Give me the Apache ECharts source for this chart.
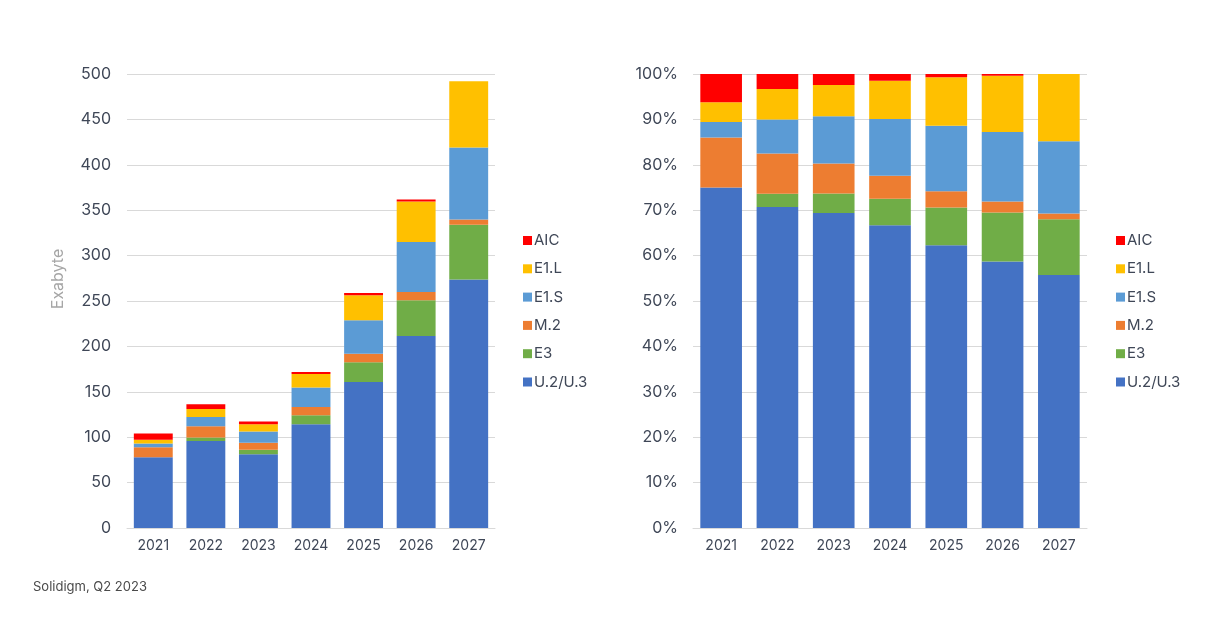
<!DOCTYPE html>
<html>
<head>
<meta charset="utf-8">
<script src="https://cdn.jsdelivr.net/npm/echarts@6/dist/echarts.min.js"></script>
<style>
html,body{margin:0;padding:0;background:#fff;}
#c{width:1219px;height:637px;}
</style>
</head>
<body>
<div id="c"></div>
<script>
// ---- data ----
var years = ['2021','2022','2023','2024','2025','2026','2027'];
var seriesNames = ['U.2/U.3','E3','M.2','E1.S','E1.L','AIC'];
var seriesColors = ['#4472C4','#70AD47','#ED7D31','#5B9BD5','#FFC000','#FF0000'];

// Exabyte (left chart)
var ebU2 = [78, 95.8, 81.2, 114.2, 160.8, 211.5, 273.6];
var ebE3 = [0, 3.8, 5.1, 9.9, 21.7, 39.3, 60.4];
var ebM2 = [11, 12.4, 7.7, 9.2, 9.5, 9.2, 5.8];
var ebE1S = [4, 10.2, 12.2, 21.3, 36.7, 55, 79.2];
var ebE1L = [4.2, 8.8, 8, 15, 27.6, 44.5, 73];
var ebAIC = [6.8, 5.2, 3, 2.2, 2.5, 2.2, 0];

// Share in % (right chart)
var pctU2 = [75.0, 70.7, 69.4, 66.7, 62.3, 58.7, 55.7];
var pctE3 = [0, 2.9, 4.3, 5.8, 8.3, 10.8, 12.3];
var pctM2 = [11.0, 8.9, 6.6, 5.1, 3.6, 2.4, 1.3];
var pctE1S = [3.4, 7.5, 10.4, 12.5, 14.4, 15.3, 15.9];
var pctE1L = [4.4, 6.7, 6.9, 8.4, 10.7, 12.4, 14.8];
var pctAIC = [6.2, 3.3, 2.4, 1.5, 0.7, 0.4, 0.0];

var leftTicks = {min:0, max:500, interval:50};
var rightTicks = {min:0, max:100, interval:10};
var yTitle = 'Exabyte';
var footnote = 'Solidigm, Q2 2023';

var ebData = [ebU2, ebE3, ebM2, ebE1S, ebE1L, ebAIC];
var pctData = [pctU2, pctE3, pctM2, pctE1S, pctE1L, pctAIC];

// ---- chart ----
var FONT = 'Inter';
var textColor = '#3f4757';
var chart = echarts.init(document.getElementById('c'), null, {renderer:'canvas'});

var series = [];
for (var i = 0; i < seriesNames.length; i++) {
  series.push({
    name: seriesNames[i], type:'bar', stack:'eb', xAxisIndex:0, yAxisIndex:0,
    data: ebData[i], itemStyle:{color:seriesColors[i]}, barCategoryGap:'26%',
    emphasis:{disabled:true}
  });
}
for (var j = 0; j < seriesNames.length; j++) {
  series.push({
    name: seriesNames[j], type:'bar', stack:'pct', xAxisIndex:1, yAxisIndex:1,
    data: pctData[j], itemStyle:{color:seriesColors[j]}, barCategoryGap:'26%',
    emphasis:{disabled:true}
  });
}

var legendNames = seriesNames.slice().reverse();
function legend(left) {
  return {
    orient:'vertical', left:left, top:228,
    data: legendNames,
    icon:'rect', itemWidth:9, itemHeight:9, itemGap:13.3,
    selectedMode:false,
    textStyle:{fontFamily:FONT, fontSize:15, color:textColor, lineHeight:10, padding:[0,0,0,-3]}
  };
}

var axisLabelY = {fontFamily:FONT, fontSize:16, color:textColor, margin:16};
var axisLabelX = {fontFamily:FONT, fontSize:14, color:textColor, margin:11};

chart.setOption({
  backgroundColor:'#ffffff',
  animation:false,
  textStyle:{fontFamily:FONT},
  grid:[
    {left:127, top:74, width:368, height:454},
    {left:693, top:74, width:394, height:454}
  ],
  legend:[legend(518), legend(1111)],
  xAxis:[
    {type:'category', gridIndex:0, data:years,
      axisLine:{lineStyle:{color:'#d9d9d9'}}, axisTick:{show:false}, axisLabel:axisLabelX},
    {type:'category', gridIndex:1, data:years,
      axisLine:{lineStyle:{color:'#d9d9d9'}}, axisTick:{show:false}, axisLabel:axisLabelX}
  ],
  yAxis:[
    {type:'value', gridIndex:0, min:leftTicks.min, max:leftTicks.max, interval:leftTicks.interval,
      axisLine:{show:false}, axisTick:{show:false},
      splitLine:{lineStyle:{color:'#d9d9d9'}}, axisLabel:axisLabelY},
    {type:'value', gridIndex:1, min:rightTicks.min, max:rightTicks.max, interval:rightTicks.interval,
      axisLine:{show:false}, axisTick:{show:false},
      splitLine:{lineStyle:{color:'#d9d9d9'}},
      axisLabel:Object.assign({}, axisLabelY, {margin:15, formatter:'{value}%'})}
  ],
  graphic:[
    {type:'text', x:58, y:279, rotation:Math.PI/2,
      style:{text:yTitle, font:'16px ' + FONT, fill:'#a6a6a6', align:'center', verticalAlign:'middle'}},
    {type:'text', left:33, top:581, style:{text:footnote, font:'13px ' + FONT, fill:'#4a4a4a'}}
  ],
  series: series
});
</script>
</body>
</html>
